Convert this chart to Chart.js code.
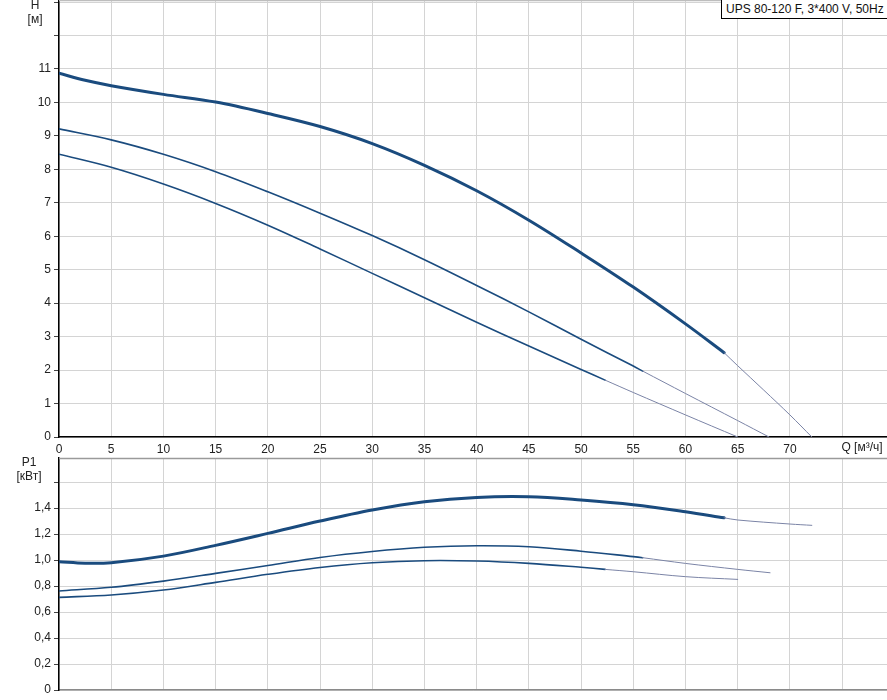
<!DOCTYPE html>
<html><head><meta charset="utf-8">
<script src="https://cdn.jsdelivr.net/npm/chart.js@4"></script>
<style>
html,body{margin:0;padding:0;background:#fff;overflow:hidden;width:887px;height:700px;}
#cH{position:absolute;left:0;top:0;}
#cP{position:absolute;left:0;top:446px;}
#leg{position:absolute;left:721px;top:0;width:180px;height:19px;border-left:1px solid #000;border-bottom:1px solid #000;background:#fff;font:12px "Liberation Sans",Arial,sans-serif;line-height:18px;padding-left:4px;color:#111;box-sizing:border-box;}
</style></head>
<body>
<canvas id="cH" width="887" height="460"></canvas>
<canvas id="cP" width="887" height="254"></canvas>
<div id="leg">UPS 80-120 F, 3*400 V, 50Hz</div>
<script>
// ---- tick labels ----
const qTickLabels = ['0','5','10','15','20','25','30','35','40','45','50','55','60','65','70',''];
const hTickLabels = ['0','1','2','3','4','5','6','7','8','9','10','11','',''];
const pTickLabels = ['0','0,2','0,4','0,6','0,8','1,0','1,2','1,4',''];

// ---- H curves (Q in m3/h, H in m) ----
const q1 = [0, 2.5, 5, 10, 15, 20, 25, 30, 35, 40, 45, 50, 55, 60, 63.7];
const h1 = [10.87, 10.66, 10.5, 10.24, 10.01, 9.67, 9.28, 8.77, 8.12, 7.36, 6.48, 5.5, 4.48, 3.38, 2.52];
const q1x = [63.7, 65, 67.5, 70, 72.1];
const h1x = [2.52, 2.13, 1.40, 0.66, 0];

const q2 = [0, 5, 10, 15, 20, 25, 30, 35, 40, 45, 50, 55, 55.9];
const h2 = [9.21, 8.88, 8.45, 7.93, 7.33, 6.69, 6.02, 5.30, 4.53, 3.74, 2.92, 2.12, 1.97];
const q2x = [55.9, 60, 65, 68.0];
const h2x = [1.97, 1.30, 0.49, 0];

const q3 = [0, 5, 10, 15, 20, 25, 30, 35, 40, 45, 50, 52.3];
const h3 = [8.45, 8.06, 7.56, 6.98, 6.33, 5.62, 4.89, 4.16, 3.43, 2.72, 2.02, 1.70];
const q3x = [52.3, 55, 60, 65];
const h3x = [1.70, 1.33, 0.66, 0];

// ---- P1 curves (kW) ----
const pq1 = [0, 2.5, 5, 10, 15, 20, 25, 30, 35, 40, 45, 50, 55, 60, 63.7];
const p1 = [0.987, 0.975, 0.979, 1.03, 1.113, 1.205, 1.30, 1.385, 1.449, 1.482, 1.487, 1.462, 1.426, 1.372, 1.325];
const pq1x = [63.7, 65, 70, 72.1];
const p1x = [1.325, 1.308, 1.277, 1.267];

const pq2 = [0, 5, 10, 15, 20, 25, 30, 35, 40, 45, 50, 55, 55.9];
const p2 = [0.762, 0.79, 0.838, 0.897, 0.958, 1.02, 1.066, 1.098, 1.11, 1.102, 1.068, 1.026, 1.018];
const pq2x = [55.9, 60, 65, 68.1];
const p2x = [1.018, 0.974, 0.928, 0.902];

const pq3 = [0, 5, 10, 15, 20, 25, 30, 35, 40, 45, 50, 52.3];
const p3 = [0.713, 0.731, 0.769, 0.828, 0.89, 0.943, 0.979, 0.995, 0.992, 0.974, 0.944, 0.928];
const pq3x = [52.3, 55, 60, 65];
const p3x = [0.928, 0.91, 0.872, 0.851];

const MAIN = '#1a4b7e', EXT = '#7b84a6', GRID = '#d4d4d4';
const FONT = {family: '"Liberation Sans", Arial, sans-serif', size: 12};

function ds(qs, vs, w, color) {
  return {data: qs.map((q, i) => ({x: q, y: vs[i]})), borderColor: color, borderWidth: w,
    pointRadius: 0, fill: false, tension: 0.35, borderCapStyle: 'round'};
}

const textPlugin = {
  id: 'txt',
  afterDraw(chart, args, opts) {
    const ctx = chart.ctx, a = chart.chartArea;
    ctx.save();
    ctx.strokeStyle = opts.topColor; ctx.lineWidth = opts.topWidth;
    ctx.beginPath(); ctx.moveTo(a.left, a.top + 0.5); ctx.lineTo(a.right, a.top + 0.5); ctx.stroke();
    ctx.font = '12px "Liberation Sans", Arial, sans-serif';
    ctx.fillStyle = '#222'; ctx.textAlign = 'center'; ctx.textBaseline = 'middle';
    (opts.items || []).forEach(it => ctx.fillText(it.text, it.x, it.y));
    ctx.restore();
  }
};

function yFit(s) { s.width = 59; s.paddingTop = 0; s.paddingBottom = 0; }

new Chart(document.getElementById('cH'), {
  type: 'line',
  data: {datasets: [
    ds(q1x, h1x, 1, EXT), ds(q2x, h2x, 1, EXT), ds(q3x, h3x, 1, EXT),
    ds(q1, h1, 3, MAIN), ds(q2, h2, 1.6, MAIN), ds(q3, h3, 1.6, MAIN)
  ]},
  plugins: [textPlugin],
  options: {
    responsive: false, animation: false, events: [],
    layout: {padding: 0},
    plugins: {legend: {display: false}, tooltip: {enabled: false},
      txt: {topColor: '#bdbdbd', topWidth: 1.5, items: [
        {text: 'H', x: 35, y: 6}, {text: '[м]', x: 35, y: 20}, {text: 'Q [м³/ч]', x: 862, y: 448}
      ]}},
    scales: {
      x: {type: 'linear', min: 0, max: 79.3,
        border: {color: '#000', width: 1.5},
        grid: {color: GRID, drawTicks: false},
        ticks: {stepSize: 5, includeBounds: false, padding: 5, color: '#222', font: FONT,
          maxRotation: 0, autoSkip: false, callback: (v, i) => qTickLabels[i] ?? ''},
        afterFit(s) { s.height = 23; s.paddingLeft = 0; s.paddingRight = 0; }},
      y: {type: 'linear', min: 0, max: 13.06,
        border: {color: '#000', width: 1.5},
        grid: {color: GRID, tickLength: 5, tickColor: '#444'},
        ticks: {stepSize: 1, includeBounds: false, padding: 3, color: '#222', font: FONT,
          autoSkip: false, callback: (v, i) => hTickLabels[i] ?? ''},
        afterFit: yFit}
    }
  }
});

new Chart(document.getElementById('cP'), {
  type: 'line',
  data: {datasets: [
    ds(pq1x, p1x, 1, EXT), ds(pq2x, p2x, 1, EXT), ds(pq3x, p3x, 1, EXT),
    ds(pq1, p1, 3, MAIN), ds(pq2, p2, 1.6, MAIN), ds(pq3, p3, 1.6, MAIN)
  ]},
  plugins: [textPlugin],
  options: {
    responsive: false, animation: false, events: [],
    layout: {padding: {top: 12, left: 0, right: 0, bottom: 0}},
    plugins: {legend: {display: false}, tooltip: {enabled: false},
      txt: {topColor: '#9a9a9a', topWidth: 1.5, items: [
        {text: 'P1', x: 29, y: 17}, {text: '[кВт]', x: 29, y: 31}
      ]}},
    scales: {
      x: {type: 'linear', min: 0, max: 79.3,
        border: {color: '#8a8a8a', width: 1.5},
        grid: {color: GRID, drawTicks: false},
        ticks: {display: false, stepSize: 5, includeBounds: false},
        afterFit(s) { s.height = 10; s.paddingLeft = 0; s.paddingRight = 0; }},
      y: {type: 'linear', min: 0, max: 1.785,
        border: {color: '#000', width: 1.5},
        grid: {color: GRID, tickLength: 5, tickColor: '#444'},
        ticks: {stepSize: 0.2, includeBounds: false, padding: 3, color: '#222', font: FONT,
          autoSkip: false, callback: (v, i) => pTickLabels[i] ?? ''},
        afterFit: yFit}
    }
  }
});
</script>
</body></html>
